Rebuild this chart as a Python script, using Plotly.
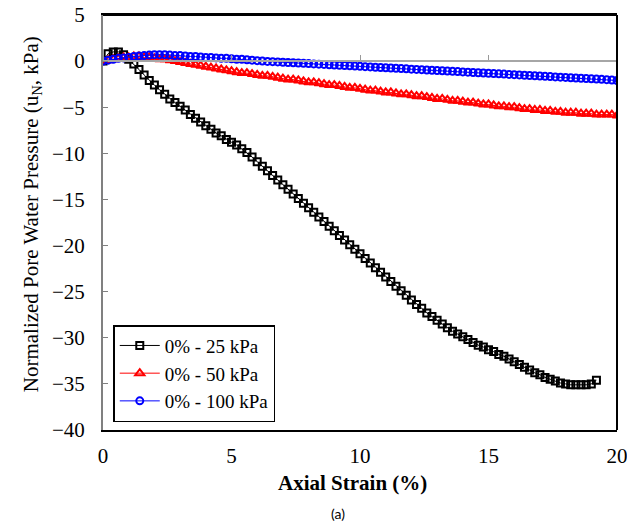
import plotly.graph_objects as go

# Axial strain (%) readings
strain_25 = [0.0, 0.2, 0.4, 0.6, 0.8, 1.0, 1.2, 1.4, 1.6, 1.8, 2.0, 2.2, 2.4, 2.6, 2.8, 3.0, 3.2, 3.4, 3.6, 3.8,
             4.0, 4.2, 4.4, 4.6, 4.8, 5.0, 5.2, 5.4, 5.6, 5.8, 6.0, 6.2, 6.4, 6.6, 6.8, 7.0, 7.2, 7.4, 7.6, 7.8,
             8.0, 8.2, 8.4, 8.6, 8.8, 9.0, 9.2, 9.4, 9.6, 9.8, 10.0, 10.2, 10.4, 10.6, 10.8, 11.0, 11.2, 11.4, 11.6, 11.8,
             12.0, 12.2, 12.4, 12.6, 12.8, 13.0, 13.2, 13.4, 13.6, 13.8, 14.0, 14.2, 14.4, 14.6, 14.8, 15.0, 15.2, 15.4, 15.6, 15.8,
             16.0, 16.2, 16.4, 16.6, 16.8, 17.0, 17.2, 17.4, 17.6, 17.8, 18.0, 18.2, 18.4, 18.6, 18.8, 19.0, 19.2]
pwp_25 = [0.0, 0.8, 1.0, 1.0, 0.7, 0.2, -0.3, -0.9, -1.5, -2.1, -2.6, -3.1, -3.6, -4.1, -4.5, -4.9, -5.3, -5.8, -6.2, -6.6,
          -7.0, -7.4, -7.8, -8.1, -8.5, -8.8, -9.1, -9.5, -9.9, -10.4, -10.9, -11.4, -11.9, -12.4, -12.9, -13.4, -13.9, -14.4, -14.9, -15.4,
          -15.9, -16.4, -16.9, -17.4, -17.9, -18.4, -18.9, -19.4, -19.9, -20.4, -20.9, -21.4, -21.9, -22.4, -22.9, -23.4, -23.9, -24.4, -24.9, -25.4,
          -25.9, -26.4, -26.8, -27.3, -27.7, -28.1, -28.5, -28.9, -29.3, -29.6, -29.9, -30.2, -30.5, -30.8, -31.0, -31.3, -31.5, -31.8, -32.0, -32.3,
          -32.6, -32.9, -33.2, -33.5, -33.8, -34.0, -34.3, -34.5, -34.7, -34.9, -35.0, -35.1, -35.1, -35.1, -35.1, -35.0, -34.6]

strain_50 = [0.0, 0.2, 0.4, 0.6, 0.8, 1.0, 1.2, 1.4, 1.6, 1.8, 2.0, 2.2, 2.4, 2.6, 2.8, 3.0, 3.2, 3.4, 3.6, 3.8,
             4.0, 4.2, 4.4, 4.6, 4.8, 5.0, 5.2, 5.4, 5.6, 5.8, 6.0, 6.2, 6.4, 6.6, 6.8, 7.0, 7.2, 7.4, 7.6, 7.8,
             8.0, 8.2, 8.4, 8.6, 8.8, 9.0, 9.2, 9.4, 9.6, 9.8, 10.0, 10.2, 10.4, 10.6, 10.8, 11.0, 11.2, 11.4, 11.6, 11.8,
             12.0, 12.2, 12.4, 12.6, 12.8, 13.0, 13.2, 13.4, 13.6, 13.8, 14.0, 14.2, 14.4, 14.6, 14.8, 15.0, 15.2, 15.4, 15.6, 15.8,
             16.0, 16.2, 16.4, 16.6, 16.8, 17.0, 17.2, 17.4, 17.6, 17.8, 18.0, 18.2, 18.4, 18.6, 18.8, 19.0, 19.2, 19.4, 19.6, 19.8, 20.0]
pwp_50 = [0.0, 0.1, 0.2, 0.3, 0.4, 0.4, 0.5, 0.5, 0.4, 0.4, 0.3, 0.2, 0.2, 0.1, 0.0, -0.1, -0.2, -0.3, -0.4, -0.5,
          -0.6, -0.7, -0.8, -0.9, -1.0, -1.1, -1.2, -1.3, -1.3, -1.4, -1.5, -1.6, -1.6, -1.7, -1.8, -1.9, -2.0, -2.0, -2.1, -2.2,
          -2.3, -2.3, -2.4, -2.5, -2.6, -2.6, -2.7, -2.8, -2.9, -2.9, -3.0, -3.1, -3.2, -3.2, -3.3, -3.4, -3.4, -3.5, -3.6, -3.6,
          -3.7, -3.8, -3.8, -3.9, -4.0, -4.1, -4.1, -4.2, -4.3, -4.3, -4.4, -4.5, -4.5, -4.6, -4.7, -4.7, -4.8, -4.9, -4.9, -5.0,
          -5.0, -5.1, -5.2, -5.2, -5.3, -5.3, -5.4, -5.4, -5.5, -5.5, -5.6, -5.6, -5.6, -5.7, -5.7, -5.7, -5.8, -5.8, -5.8, -5.8, -5.9]

strain_100 = [0.0, 0.2, 0.4, 0.6, 0.8, 1.0, 1.2, 1.4, 1.6, 1.8, 2.0, 2.2, 2.4, 2.6, 2.8, 3.0, 3.2, 3.4, 3.6, 3.8,
              4.0, 4.2, 4.4, 4.6, 4.8, 5.0, 5.2, 5.4, 5.6, 5.8, 6.0, 6.2, 6.4, 6.6, 6.8, 7.0, 7.2, 7.4, 7.6, 7.8,
              8.0, 8.2, 8.4, 8.6, 8.8, 9.0, 9.2, 9.4, 9.6, 9.8, 10.0, 10.2, 10.4, 10.6, 10.8, 11.0, 11.2, 11.4, 11.6, 11.8,
              12.0, 12.2, 12.4, 12.6, 12.8, 13.0, 13.2, 13.4, 13.6, 13.8, 14.0, 14.2, 14.4, 14.6, 14.8, 15.0, 15.2, 15.4, 15.6, 15.8,
              16.0, 16.2, 16.4, 16.6, 16.8, 17.0, 17.2, 17.4, 17.6, 17.8, 18.0, 18.2, 18.4, 18.6, 18.8, 19.0, 19.2, 19.4, 19.6, 19.8, 20.0]
pwp_100 = [0.0, 0.1, 0.2, 0.3, 0.35, 0.4, 0.5, 0.55, 0.6, 0.65, 0.7, 0.7, 0.7, 0.65, 0.6, 0.6, 0.55, 0.5, 0.5, 0.45,
           0.4, 0.4, 0.35, 0.3, 0.3, 0.25, 0.2, 0.2, 0.15, 0.1, 0.05, 0.0, -0.03, -0.06, -0.09, -0.12, -0.15, -0.18, -0.21, -0.24,
           -0.27, -0.3, -0.33, -0.36, -0.39, -0.42, -0.45, -0.48, -0.51, -0.54, -0.57, -0.6, -0.63, -0.66, -0.69, -0.72, -0.75, -0.78, -0.81, -0.84,
           -0.87, -0.9, -0.93, -0.96, -0.99, -1.02, -1.05, -1.08, -1.11, -1.14, -1.17, -1.2, -1.23, -1.26, -1.29, -1.32, -1.35, -1.38, -1.41, -1.44,
           -1.47, -1.5, -1.53, -1.56, -1.59, -1.62, -1.65, -1.68, -1.71, -1.74, -1.77, -1.8, -1.83, -1.86, -1.89, -1.92, -1.95, -1.98, -2.01, -2.05, -2.1]

series_names = ["0% - 25 kPa", "0% - 50 kPa", "0% - 100 kPa"]

x_ticks = [0, 5, 10, 15, 20]
y_ticks = [5, 0, -5, -10, -15, -20, -25, -30, -35, -40]

SERIF = "Liberation Serif"

fig = go.Figure()
fig.add_trace(go.Scatter(
    x=strain_25, y=pwp_25, name=series_names[0], mode="lines+markers",
    line=dict(color="black", width=1),
    marker=dict(symbol="square-open", size=7, color="black", line=dict(width=2, color="black"))))
fig.add_trace(go.Scatter(
    x=strain_50, y=pwp_50, name=series_names[1], mode="lines+markers",
    line=dict(color="red", width=1),
    marker=dict(symbol="triangle-up-open", size=8, color="red", line=dict(width=2, color="red"))))
fig.add_trace(go.Scatter(
    x=strain_100, y=pwp_100, name=series_names[2], mode="lines+markers",
    line=dict(color="blue", width=1),
    marker=dict(symbol="circle-open", size=7, color="blue", line=dict(width=2, color="blue"))))
# helper trace to host the zero-crossing axis
fig.add_trace(go.Scatter(x=[None], y=[None], xaxis="x2", showlegend=False, hoverinfo="skip"))

fig.update_layout(
    width=627, height=532,
    margin=dict(l=103, r=10, t=15, b=102, autoexpand=False),
    paper_bgcolor="white", plot_bgcolor="white",
    font=dict(family=SERIF, color="black"),
    showlegend=True,
    legend=dict(x=0.02, y=0.019, xanchor="left", yanchor="bottom",
                bgcolor="white", bordercolor="black", borderwidth=1.5,
                font=dict(family=SERIF, size=19, color="black"),
                itemwidth=40, tracegroupgap=0),
    xaxis=dict(range=[0, 20], tickvals=x_ticks, ticks="", showgrid=False, zeroline=False, automargin=False,
               showline=True, linecolor="black", linewidth=2, mirror=True, ticklabeloverflow="allow",
               tickfont=dict(family=SERIF, size=21, color="black"), ticklabelstandoff=6),
    xaxis2=dict(range=[0, 20], matches="x", overlaying="x", anchor="free", position=40 / 45,
                side="top", tickvals=x_ticks, ticks="outside", ticklen=5, tickcolor="#999999",
                showticklabels=False, showline=True, linecolor="#a6a6a6", linewidth=1.5,
                showgrid=False, zeroline=False, automargin=False),
    yaxis=dict(range=[-40, 5], tickvals=y_ticks, ticks="inside", ticklen=5, tickcolor="#808080",
               showgrid=False, zeroline=False, showline=True, linecolor="#808080", linewidth=2,
               automargin=False, ticklabeloverflow="allow",
               tickfont=dict(family=SERIF, size=21, color="black"), ticklabelstandoff=12),
    shapes=[
        dict(type="line", xref="paper", yref="paper", x0=1, x1=1, y0=0, y1=1,
             line=dict(color="black", width=2)),
        dict(type="line", xref="paper", yref="paper", x0=0, x1=1, y0=1, y1=1,
             line=dict(color="black", width=2)),
    ],
    annotations=[
        dict(text="Normalized Pore Water Pressure (u<sub>N</sub>, kPa)", textangle=-90,
             xref="paper", yref="paper", x=-0.138, y=0.52, showarrow=False,
             font=dict(family=SERIF, size=21, color="black"), xanchor="center", yanchor="middle"),
        dict(text="<b>Axial Strain (%)</b>", xref="paper", yref="paper", x=0.485, y=-0.128,
             showarrow=False, font=dict(family=SERIF, size=21, color="black"),
             xanchor="center", yanchor="middle"),
        dict(text="(a)", xref="paper", yref="paper", x=0.457, y=-0.2, showarrow=False,
             font=dict(family="Lato", size=14, color="black"),
             xanchor="center", yanchor="middle"),
    ],
)

fig.write_html("out.html")
